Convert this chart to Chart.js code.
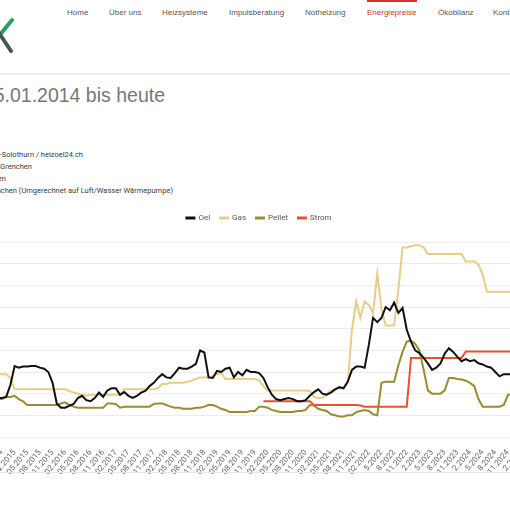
<!DOCTYPE html>
<html lang="de">
<head>
<meta charset="utf-8">
<title>Energiepreise</title>
<script src="https://cdn.jsdelivr.net/npm/chart.js@4/dist/chart.umd.min.js"></script>
<style>
  html, body { margin: 0; padding: 0; width: 510px; height: 510px; overflow: hidden; background: #fff; }
  body { position: relative; font-family: "Liberation Sans", Arial, sans-serif; }
  .nav { position: absolute; top: 8px; font-size: 8px; line-height: 10px; color: #555; white-space: nowrap; }
  .nav.active { color: #c8322c; }
  .zeile { position: absolute; font-family: Roboto, sans-serif; font-size: 7.5px; line-height: 10px; color: #3a3a3a; white-space: nowrap; text-align: right; }
</style>
</head>
<body>

<!-- Kopfzeile -->
<div style="position:absolute;left:367px;top:0;width:50px;height:2px;background:#d0342c"></div>
<span class="nav" style="left:67px">Home</span>
<span class="nav" style="left:109px">Über uns</span>
<span class="nav" style="left:162px">Heizsysteme</span>
<span class="nav" style="left:229px">Impulsberatung</span>
<span class="nav" style="left:305px">Notheizung</span>
<span class="nav active" style="left:367px">Energiepreise</span>
<span class="nav" style="left:438px">Ökobilanz</span>
<span class="nav" style="left:493px">Kontakt</span>

<svg style="position:absolute;left:0;top:0" width="20" height="60">
  <line x1="12" y1="20" x2="-1" y2="36" stroke="#2f9e5c" stroke-width="4" stroke-linecap="round"/>
  <line x1="-1" y1="33" x2="11" y2="51" stroke="#48555e" stroke-width="4" stroke-linecap="round"/>
</svg>
<div style="position:absolute;left:0;top:73px;width:510px;height:2px;background:#eeeeee"></div>

<div style="position:absolute;right:345px;top:84px;font-size:19.5px;line-height:22px;color:#777;white-space:nowrap">Entwicklung der Energiepreise vom 05.01.2014 bis heute</div>

<div class="zeile" style="right:427px;top:150px">Oel: Preise Region Grenchen-Solothurn / heizoel24.ch</div>
<div class="zeile" style="right:478px;top:162px">Gas: Städtische Werke Grenchen</div>
<div class="zeile" style="right:504px;top:174px">Pellet: Holzpellets Grenchen</div>
<div class="zeile" style="right:337px;top:186px">Strom: Städtische Werke Grenchen (Umgerechnet auf Luft/Wasser Wärmepumpe)</div>

<div style="position:absolute;left:-76px;top:204px;width:670px;height:273px">
  <canvas id="grafik" width="670" height="273"></canvas>
</div>
<div style="position:absolute;left:0;top:472px;width:510px;height:1px;background:#e6e6e6"></div>

<script>
// -------------------------------
// DATEN (Monatswerte ab 02.2014)
// -------------------------------
const startJahr = 2014;
const startMonat = 2;
const anzahlMonate = 137;

const monate = [];
for (let i = 0; i < anzahlMonate; i++) {
  const m = (startMonat - 1 + i) % 12 + 1;
  const j = startJahr + Math.floor((startMonat - 1 + i) / 12);
  // ab Mai 2022 ohne führende Null
  const neu = j > 2022 || (j === 2022 && m >= 5);
  monate.push((neu ? String(m) : String(m).padStart(2, "0")) + "." + j);
}

const oel = [
  78, 79, 78, 77, 77, 78, 77, 76, 76,
  76, 77, 88, 105.5, 104, 105, 105, 105.5, 105.5, 104, 103,
  100, 90, 71, 67, 67, 69, 70.5, 76, 78, 74,
  73, 76, 81, 77, 83, 85, 85, 79, 81.5, 78,
  76, 78, 81, 82.5, 87, 90, 94.5, 98, 95, 94.5,
  99, 104, 103, 103, 105, 107.5, 120, 118, 95, 94.5,
  101, 100, 103, 104, 95, 100, 97, 102, 100, 100,
  99, 94.5, 86, 79, 75, 74, 75, 76, 75, 73,
  73, 74, 78, 81.5, 84, 80, 79, 81, 84, 86,
  85, 91, 102, 105, 105, 104, 125, 150, 146, 150,
  160, 157, 164, 154.5, 159, 139, 128, 120, 117.5, 113,
  108, 102, 104, 108, 117, 122, 118.5, 114, 110, 112,
  110, 111, 108, 107, 105, 104, 100, 96, 98, 98,
  98, 99, 98, 97, 97, 96, 95
];

const gas = [
  98, 98, 98, 98, 98, 98, 98, 98, 98, 98, 98,
  94.5,
  84, 84, 84, 84, 84, 84, 84, 84, 84, 84, 84, 84, 84,
  82.5, 81, 80, 79, 78,
  79, 79, 79, 79, 79, 79, 79, 79,
  84, 84, 84, 84, 84, 84, 84, 84,
  85, 89, 89,
  90, 90, 90, 90,
  91, 92, 93.5, 95, 95, 95, 96, 98, 99,
  93.5, 93.5, 93.5, 93.5, 93.5, 93.5, 93.5, 93.5,
  92, 87,
  83, 83, 83, 83, 83, 83, 83, 83, 83, 83,
  82.5, 77, 76, 76, 80, 82.5, 84, 85, 85, 91,
  139, 165, 150, 165, 162, 154, 191, 158, 143, 143, 143, 176, 215, 215, 216, 217, 217, 215,
  209, 209, 209, 209, 209, 209, 209, 209, 209,
  202, 202, 202,
  199, 190,
  174, 174, 174, 174, 174, 174, 174, 174, 174, 174, 174, 174, 174
];

const pellet = [
  75, 75, 76, 75, 75, 74, 75, 75, 75,
  75, 77, 77, 78, 75, 73,
  69.5, 69.5, 69.5, 69.5, 69.5, 69.5, 69.5, 69.5,
  71, 72, 69.5, 68,
  67, 67, 67, 67, 67, 67, 67,
  71, 71, 70.5, 67,
  68, 68, 68, 68, 68, 68, 68,
  70.5, 71, 71, 69.5, 68, 67, 67,
  66, 66, 66,
  67, 67, 68, 69.5, 69.5, 68, 66, 65,
  63, 63, 63, 63, 63,
  64, 64, 68, 68, 67, 65, 64,
  63, 63, 63, 63,
  64, 64, 65, 69.5, 69, 66, 65, 64, 61, 60, 59, 59, 60, 60, 63, 64, 65, 64, 61, 60,
  90, 91, 91, 91, 106, 118.5, 128, 129, 126, 120, 102, 83, 80, 80, 80, 83, 94.5, 94.5, 93.5, 93, 92, 90, 87, 75, 68,
  68, 68, 68, 68,
  69.5, 79,
  79, 79, 79, 79, 79, 79, 79
];

// Strom erst ab 01.2020
const strom = [
  null, null, null, null, null, null, null, null, null, null,
  null, null, null, null, null, null, null, null, null, null,
  null, null, null, null, null, null, null, null, null, null,
  null, null, null, null, null, null, null, null, null, null,
  null, null, null, null, null, null, null, null, null, null,
  null, null, null, null, null, null, null, null, null, null,
  null, null, null, null, null, null, null, null, null, null,
  null,
  73, 73, 73, 73, 73, 73, 73, 73, 73, 73, 73, 73,
  69.5, 69.5, 69.5, 69.5, 69.5, 69.5, 69.5, 69.5, 69.5, 69.5, 69.5,
  69,
  68, 68, 68, 68, 68, 68, 68, 68, 68, 68, 68,
  113, 113, 113, 113, 113, 113, 113, 113, 113, 113, 113, 113, 113,
  119, 119, 119, 119, 119, 119, 119, 119, 119, 119, 119, 119, 119, 119, 119, 119, 119, 119
];

const serien = ["Oel", "Gas", "Pellet", "Strom"];
const farben = ["#111111", "#e8cd87", "#9c8b30", "#e5532c"];

// -------------------------------
// GRAFIK
// -------------------------------
Chart.defaults.font.family = "Roboto";

// etwas mehr Abstand unter der Legende
const legendenAbstand = {
  id: "legendenAbstand",
  beforeInit(chart) {
    const fitAlt = chart.legend.fit;
    chart.legend.fit = function () {
      fitAlt.call(this);
      this.height = 38;
    };
  }
};

const werte = [oel, gas, pellet, strom];

new Chart(document.getElementById("grafik"), {
  type: "line",
  data: {
    labels: monate,
    datasets: serien.map((name, i) => ({
      label: name,
      data: werte[i],
      borderColor: farben[i],
      backgroundColor: farben[i],
      borderWidth: 2,
      pointRadius: 0,
      tension: 0,
      spanGaps: false
    }))
  },
  options: {
    responsive: false,
    animation: false,
    layout: { padding: 0 },
    plugins: {
      legend: {
        labels: { boxWidth: 8, boxHeight: 1, padding: 10, color: "#555", font: { size: 8 } }
      },
      tooltip: { enabled: false }
    },
    scales: {
      x: {
        grid: { display: false },
        border: { display: false },
        ticks: {
          autoSkip: false,
          minRotation: 50,
          maxRotation: 50,
          color: "#666",
          font: { size: 8 },
          callback: function (val, i) {
            return i % 3 === 0 ? this.getLabelForValue(val) : "";
          }
        },
        afterFit(scale) {
          scale.height = 40;
          scale.paddingRight = 56.5;
        }
      },
      y: {
        min: 40,
        max: 220,
        ticks: { stepSize: 20, color: "#666", font: { size: 8 } },
        grid: { color: "rgba(0,0,0,0.07)" },
        border: { display: false },
        afterFit(scale) {
          scale.width = 40;
        }
      }
    }
  },
  plugins: [legendenAbstand]
});
</script>
</body>
</html>
